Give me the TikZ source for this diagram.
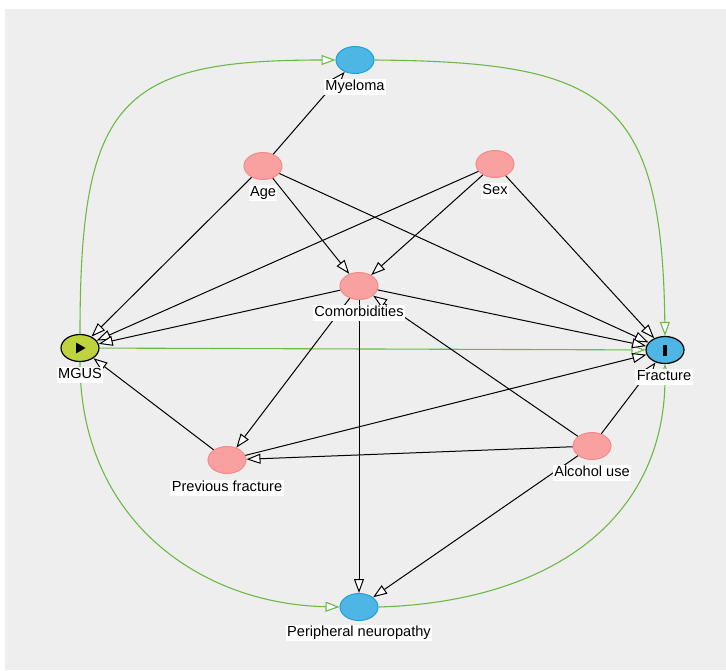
\documentclass[tikz,border=0pt]{standalone}
\usepackage{fontspec}
\setmainfont{Liberation Sans}
\usetikzlibrary{arrows.meta,shapes.geometric}
\definecolor{bg}{HTML}{EEEEEE}
\definecolor{pinkfill}{HTML}{F9A0A0}
\definecolor{pinkdraw}{HTML}{F58A8A}
\definecolor{bluefill}{HTML}{4DB6E4}
\definecolor{bluedraw}{HTML}{1E9FD9}
\definecolor{expfill}{HTML}{BFD33D}
\definecolor{grn}{HTML}{6CBA45}
\begin{document}
\begin{tikzpicture}[x=1pt,y=-1pt,
  var/.style={ellipse, minimum width=38pt, minimum height=27pt, inner sep=0pt, line width=1pt},
  conf/.style={var, fill=pinkfill, draw=pinkdraw},
  med/.style={var, fill=bluefill, draw=bluedraw},
  expo/.style={var, fill=expfill, draw=black, line width=1.2pt},
  outc/.style={var, fill=bluefill, draw=black, line width=1.2pt},
  lbl/.style={fill=white, inner sep=1.5pt, text height=10.8pt, text depth=3pt, font=\fontsize{14.6}{16}\selectfont},
  tip/.style={-{Triangle[length=14pt,width=10pt,fill=white]}},
  blk/.style={tip, draw=black, line width=1pt},
  grnedge/.style={tip, draw=grn, line width=1.1pt}]
\useasboundingbox (0,0) rectangle (726,670);
\fill[bg] (5,9) rectangle (726,670);

% variable nodes
\node[med]  (myel) at (355,60)  {};
\node[conf] (age)  at (263,166) {};
\node[conf] (sex)  at (495,164) {};
\node[conf] (como) at (359,286) {};
\node[expo] (mgus) at (80,348)  {};
\node[outc] (frac) at (665,350) {};
\node[conf] (prev) at (227,460) {};
\node[conf] (alc)  at (592,446) {};
\node[med]  (pn)   at (359,607) {};

\fill[shift={(mgus.center)}] (-4,-5.5) -- (-4,5.5) -- (5.5,0) -- cycle;
\fill[shift={(frac.center)}] (-1.6,-5.5) rectangle (1.6,5.5);

% green (causal) edges
\draw[grnedge] (mgus.north) .. controls (80,100) and (120,60) .. (myel.west);
\draw[grnedge] (myel.east) .. controls (605,62) and (662,95) .. (frac.north);
\draw[grnedge] (mgus) -- (frac);
\draw[grnedge] (mgus.south) .. controls (80,520) and (200,604) .. (pn.west);
\draw[grnedge] (pn.east) .. controls (550,602) and (665,520) .. (frac.south);

% black edges
\draw[blk] (age) -- (myel);
\draw[blk] (age) -- (como);
\draw[blk] (age) -- (mgus);
\draw[blk] (age) -- (frac);
\draw[blk] (sex) -- (como);
\draw[blk] (sex) -- (mgus);
\draw[blk] (sex) -- (frac);
\draw[blk] (como) -- (mgus);
\draw[blk] (como) -- (frac);
\draw[blk] (como) -- (prev);
\draw[blk] (como) -- (pn);
\draw[blk] (prev) -- (mgus);
\draw[blk] (prev) -- (frac);
\draw[blk] (alc) -- (prev);
\draw[blk] (alc) -- (como);
\draw[blk] (alc) -- (frac);
\draw[blk] (alc) -- (pn);

% labels
\node[lbl] (myel-l) at (355,87)  {Myeloma};
\node[lbl] (age-l)  at (263,193) {Age};
\node[lbl] (sex-l)  at (495,191) {Sex};
\node[lbl] (como-l) at (359,313) {Comorbidities};
\node[lbl] (mgus-l) at (80,375)  {MGUS};
\node[lbl] (frac-l) at (664,377) {Fracture};
\node[lbl] (prev-l) at (227,488) {Previous fracture};
\node[lbl] (alc-l)  at (592,473) {Alcohol use};
\node[lbl] (pn-l)   at (359,633) {Peripheral neuropathy};
\end{tikzpicture}
\end{document}
